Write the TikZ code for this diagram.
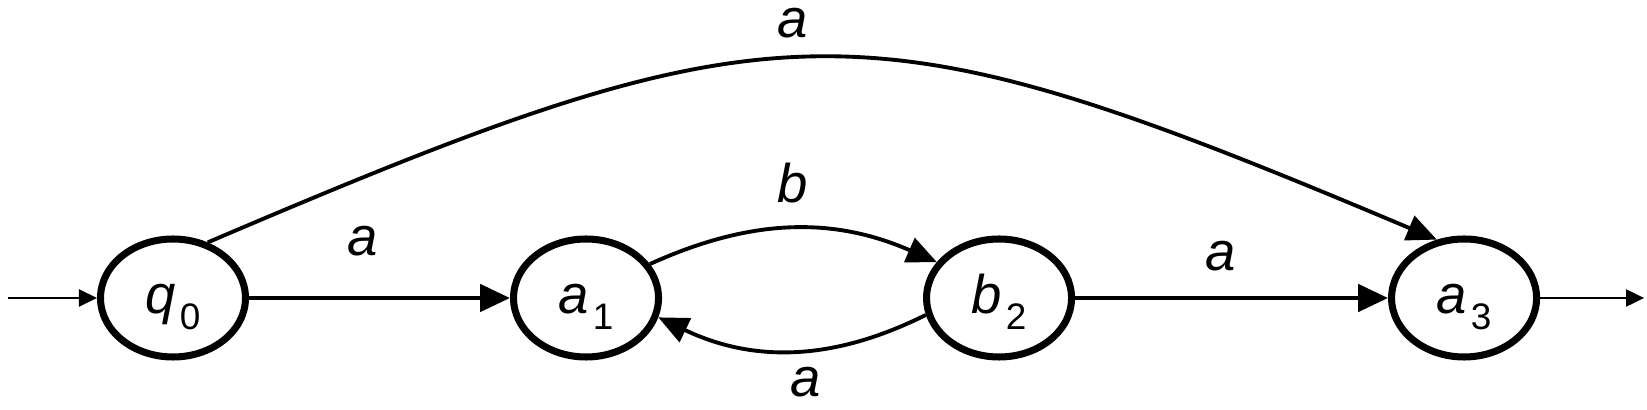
\documentclass[tikz,border=0pt]{standalone}
\usepackage{fontspec}
\setmainfont{Liberation Sans}
\usetikzlibrary{shapes.geometric,positioning,arrows.meta}

\newcommand{\stlabel}[2]{\textit{#1}\kern0.4mm{\fontsize{10.5}{10.5}\selectfont\raisebox{-1.6mm}{#2}}}

\tikzset{
	stnode/.style={ellipse, draw, line width=2pt, minimum width=1.45cm, minimum height=1.18cm, inner sep=0pt, text height=4.2mm, text depth=1mm, font=\fontsize{15.5}{18}\selectfont},
	trans/.style={line width=1.4pt, -{Triangle[length=3mm,width=2.7mm]}},
	curved/.style={line width=1.1pt, -{Triangle[length=3mm,width=2.6mm]}},
	io/.style={line width=0.6pt, -{Triangle[length=1.8mm,width=1.7mm]}},
	lbl/.style={inner sep=0pt, font=\fontsize{15.5}{18}\selectfont\itshape}
}

\begin{document}
\begin{tikzpicture}
	\useasboundingbox (0,0) rectangle (16.47,4.10);

	\node[stnode] (q0) at (1.73,1.12) {\stlabel{q}{0}};
	\node[stnode, right=2.61cm of q0] (a1) {\stlabel{a}{1}};
	\node[stnode, right=2.61cm of a1] (b2) {\stlabel{b}{2}};
	\node[stnode, right=3.13cm of b2] (a3) {\stlabel{a}{3}};

	\coordinate (start) at (0.08,1.12);
	\coordinate[right=1.04cm of a3.east] (end);

	\draw[io] (start) -- (q0);
	\draw[io] (a3) -- (end);

	\draw[trans] (q0) -- node[lbl, above=4mm, pos=0.435] {a} (a1);
	\draw[trans] (b2) -- node[lbl, above=2.5mm, pos=0.465] {a} (a3);
	\draw[curved] (a1.28) to[bend left=24] node[lbl, above=2.4mm] {b} (b2.150);
	\draw[curved] (b2.193) to[bend left=26] node[lbl, below=1.5mm, pos=0.45] {a} (a1.-15);
	\draw[curved] (q0.58) to[bend left=23, looseness=1.3] node[lbl, above=1.8mm, pos=0.47] {a} (a3.115);
\end{tikzpicture}
\end{document}
